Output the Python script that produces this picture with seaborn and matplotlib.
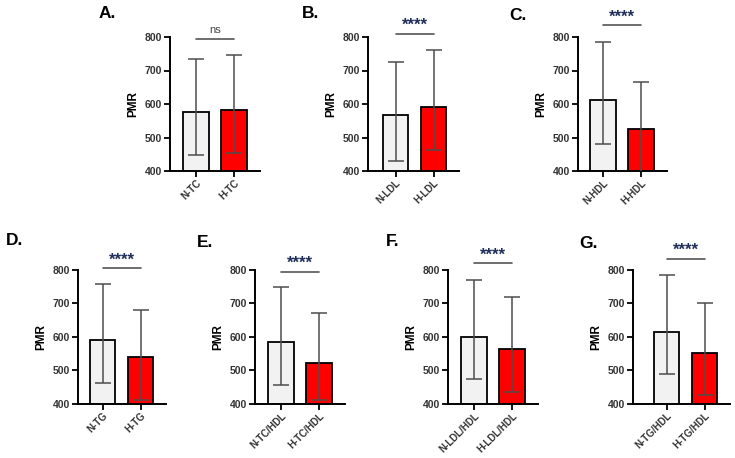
import numpy as np
import pandas as pd
import matplotlib
matplotlib.use("Agg")
import matplotlib.pyplot as plt
import seaborn as sns

# ------------------------
# data (mean, upper and lower error end)
# ------------------------
panels = ["A.", "B.", "C.", "D.", "E.", "F.", "G."]
groups_n = ["N-TC", "N-LDL", "N-HDL", "N-TG", "N-TC/HDL", "N-LDL/HDL", "N-TG/HDL"]
groups_h = ["H-TC", "H-LDL", "H-HDL", "H-TG", "H-TC/HDL", "H-LDL/HDL", "H-TG/HDL"]
mean_n = [576, 566, 611, 590, 585, 600, 615]
mean_h = [581, 592, 526, 538, 521, 563, 551]
upper_n = [735, 725, 785, 759, 748, 771, 786]
upper_h = [747, 761, 667, 680, 670, 718, 701]
lower_n = [447, 430, 482, 462, 455, 472, 487]
lower_h = [453, 462, 385, 409, 409, 434, 426]
signif = ["ns", "****", "****", "****", "****", "****", "****"]
sig_y = [795, 810, 836, 806, 795, 820, 834]

# ------------------------
# layout (pixels in a 735x458 canvas)
# ------------------------
W, H = 735, 458
spine_px = [170, 368, 578, 78, 255, 448, 633]
center_px = [196, 395.5, 603, 102.5, 281, 474, 666.5]
y800_px = [37, 37, 37, 270, 270, 270, 270]
y400_px = [171, 171, 171, 403.5, 403.5, 403.5, 403.5]
label_px = [(99, 14), (302, 14), (509, 15), (6, 241), (197, 243), (386, 242), (579, 244)]
step = 38.0

sns.set_style("ticks")
plt.rcParams["font.family"] = ["Liberation Sans", "DejaVu Sans"]
plt.rcParams["text.color"] = "black"
plt.rcParams["axes.labelcolor"] = "black"

fig = plt.figure(figsize=(W / 100, H / 100), dpi=100)

for i in range(len(panels)):
    c = (center_px[i] - spine_px[i]) / step
    right = 1.68
    rect = [spine_px[i] / W, (H - y400_px[i]) / H,
            (right + c) * step / W, (y400_px[i] - y800_px[i]) / H]
    ax = fig.add_axes(rect)

    df = pd.DataFrame({"group": [groups_n[i], groups_h[i]],
                       "PMR": [mean_n[i], mean_h[i]]})
    sns.barplot(data=df, x="group", y="PMR", hue="group",
                palette=["#f2f2f2", "#ff0000"], saturation=1, edgecolor="black",
                linewidth=1.3, width=0.66, ax=ax, legend=False)

    means = np.array([mean_n[i], mean_h[i]])
    lo = means - np.array([lower_n[i], lower_h[i]])
    hi = np.array([upper_n[i], upper_h[i]]) - means
    ax.errorbar([0, 1], means, yerr=[lo, hi], fmt="none",
                ecolor="#4d4d4d", elinewidth=1.1, capsize=6, capthick=1.1, zorder=5)

    ax.set_ylim(400, 800)
    ax.set_xlim(-c, right)
    ax.set_yticks([400, 500, 600, 700, 800])
    ax.set_xlabel("")
    ax.set_ylabel("PMR", fontsize=8.5, fontweight="bold", labelpad=4)
    sns.despine(ax=ax)
    for s in ["left", "bottom"]:
        ax.spines[s].set_linewidth(1.4)
        ax.spines[s].set_color("black")
    ax.tick_params(axis="y", length=4, width=1.3, labelsize=7.5, pad=1.5,
                   labelcolor="#333333", color="black")
    ax.tick_params(axis="x", length=4, width=1.3, labelsize=7, pad=1, color="black")
    for t in ax.get_yticklabels():
        t.set_fontweight("bold")
    for t in ax.get_xticklabels():
        t.set_fontweight("bold")
        t.set_rotation(45)
        t.set_ha("right")
        t.set_rotation_mode("anchor")
        t.set_color("#333333")

    # significance bracket
    ax.plot([0, 1], [sig_y[i], sig_y[i]], color="#555555", lw=1.2, clip_on=False)
    if signif[i] == "ns":
        ax.text(0.5, sig_y[i] + 12, "ns", ha="center", va="bottom",
                fontsize=8, color="#444444", clip_on=False)
    else:
        ax.text(0.5, sig_y[i] + 2, signif[i], ha="center", va="bottom",
                fontsize=12, fontweight="bold", color="#1f2f5a", clip_on=False)

    lx, ly = label_px[i]
    fig.text(lx / W, 1 - ly / H, panels[i], fontsize=12.5, fontweight="bold",
             color="black", ha="left", va="center")

fig.savefig("out.png", dpi=100)
